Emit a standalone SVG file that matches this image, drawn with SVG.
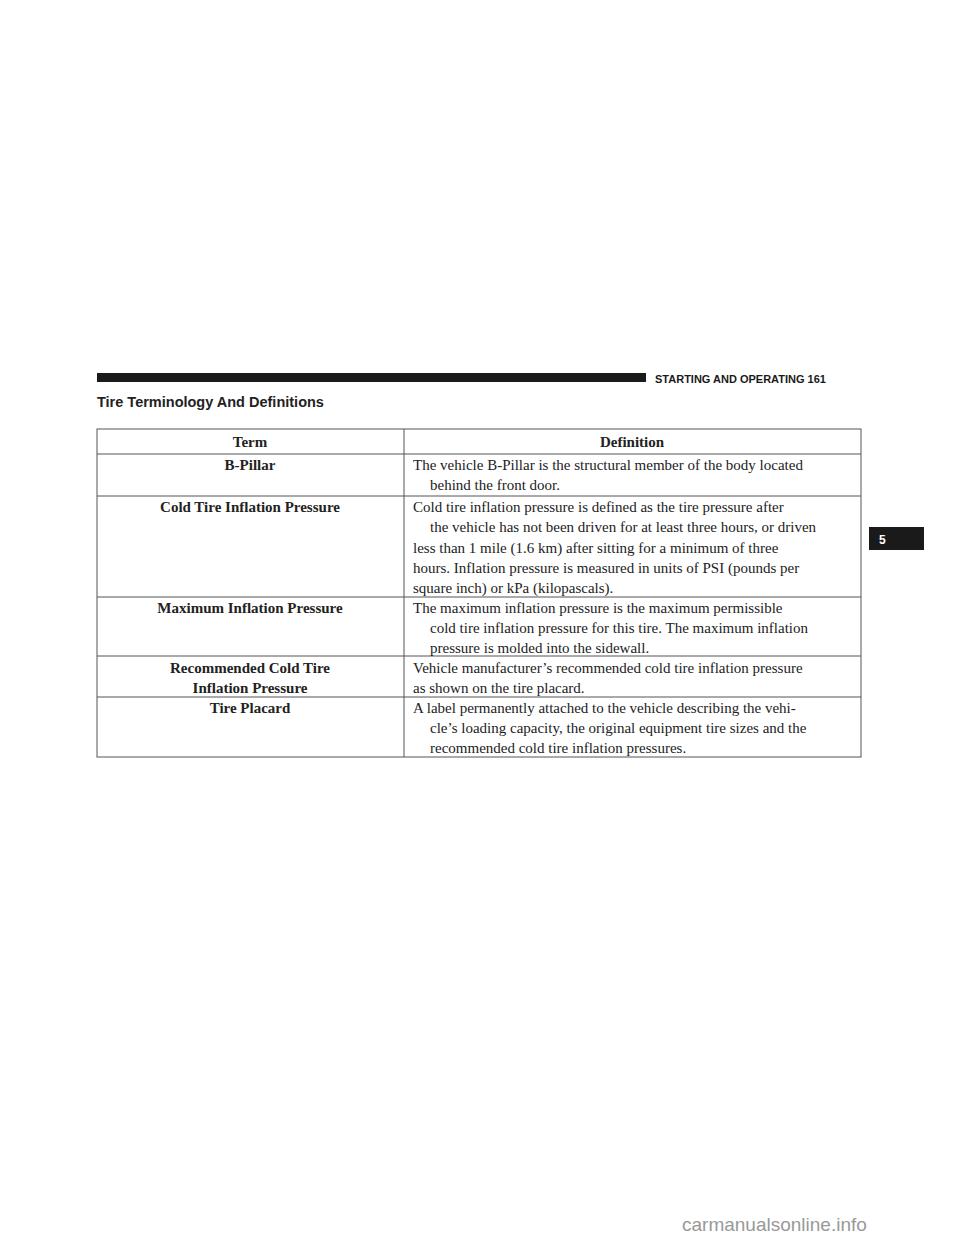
<svg xmlns="http://www.w3.org/2000/svg" width="960" height="1242" viewBox="0 0 960 1242">
<style>
.s{font-family:"Liberation Serif",serif;font-size:15px;fill:#222}
.b{font-weight:bold}
.c{text-anchor:middle}
.l{stroke:#555;stroke-width:1;fill:none}
</style>
<rect width="960" height="1242" fill="#fff"/>
<g id="header">
<rect x="97" y="373" width="549" height="9" fill="#1a1a1a"/>
<text x="655" y="383" font-family="Liberation Sans,sans-serif" font-size="11" font-weight="bold" fill="#1a1a1a">STARTING AND OPERATING   161</text>
<rect x="869" y="527" width="55" height="23" fill="#1a1a1a"/>
<text x="879" y="544" font-family="Liberation Sans,sans-serif" font-size="12" font-weight="bold" fill="#fff">5</text>
</g>
<text x="97" y="407" font-family="Liberation Sans,sans-serif" font-size="14.5" font-weight="bold" fill="#222">Tire Terminology And Definitions</text>
<g id="table">
<rect class="l" x="97" y="429" width="764" height="328"/>
<path class="l" d="M404 429V757M97 454H861M97 496H861M97 597H861M97 656H861M97 697H861"/>
<text class="s b c" x="250" y="447">Term</text>
<text class="s b c" x="632" y="447">Definition</text>
<text class="s b c" x="250" y="470">B-Pillar</text>
<text class="s" x="413" y="470">The vehicle B-Pillar is the structural member of the body located</text>
<text class="s" x="430" y="490">behind the front door.</text>
<text class="s b c" x="250" y="512">Cold Tire Inflation Pressure</text>
<text class="s" x="413" y="512">Cold tire inflation pressure is defined as the tire pressure after</text>
<text class="s" x="430" y="532">the vehicle has not been driven for at least three hours, or driven</text>
<text class="s" x="413" y="553">less than 1 mile (1.6 km) after sitting for a minimum of three</text>
<text class="s" x="413" y="573">hours. Inflation pressure is measured in units of PSI (pounds per</text>
<text class="s" x="413" y="593">square inch) or kPa (kilopascals).</text>
<text class="s b c" x="250" y="613">Maximum Inflation Pressure</text>
<text class="s" x="413" y="613">The maximum inflation pressure is the maximum permissible</text>
<text class="s" x="430" y="633">cold tire inflation pressure for this tire. The maximum inflation</text>
<text class="s" x="430" y="653">pressure is molded into the sidewall.</text>
<text class="s b c" x="250" y="673">Recommended Cold Tire</text>
<text class="s b c" x="250" y="693">Inflation Pressure</text>
<text class="s" x="413" y="673">Vehicle manufacturer’s recommended cold tire inflation pressure</text>
<text class="s" x="413" y="693">as shown on the tire placard.</text>
<text class="s b c" x="250" y="713">Tire Placard</text>
<text class="s" x="413" y="713">A label permanently attached to the vehicle describing the vehi-</text>
<text class="s" x="430" y="733">cle’s loading capacity, the original equipment tire sizes and the</text>
<text class="s" x="430" y="753">recommended cold tire inflation pressures.</text>
</g>
<text x="682" y="1231" font-family="Liberation Sans,sans-serif" font-size="19" fill="#999">carmanualsonline.info</text>
</svg>
